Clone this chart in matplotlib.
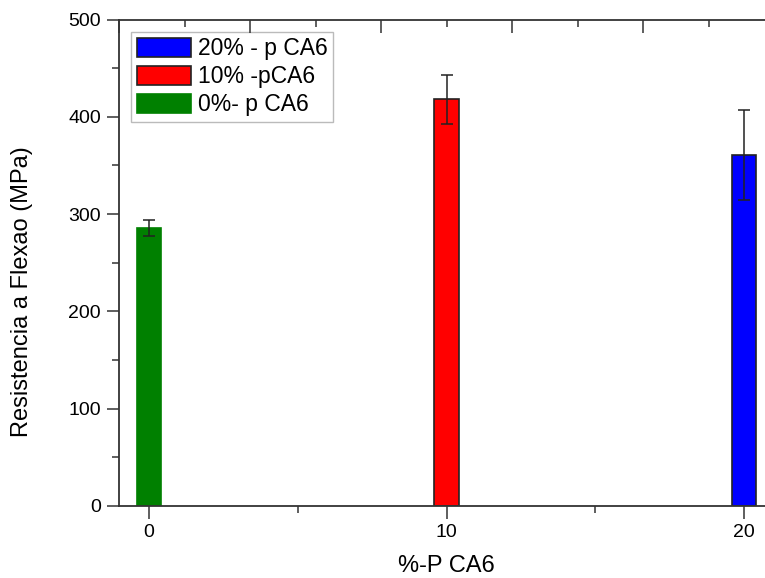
import numpy as np
import matplotlib.pyplot as plt
from matplotlib.ticker import MultipleLocator

plt.rcParams['font.family'] = ['Liberation Sans', 'DejaVu Sans']

# data
pct = [0, 10, 20]
strength = [286, 418, 361]
err = [8, 25, 46]
colors = ['#008000', '#ff0000', '#0000ff']
edges = ['#008000', '#222222', '#222222']
labels = ['0%- p CA6', '10% -pCA6', '20% - p CA6']

fig = plt.figure(figsize=(7.65, 5.78), dpi=100)
ax = fig.add_axes([119/765, 72/578, 655/765, 486.5/578])

bars = []
for x, h, e, c, ec, lab in zip(pct, strength, err, colors, edges, labels):
    b = ax.bar(x, h, width=0.82, color=c, edgecolor=ec, linewidth=1.2, label=lab, zorder=2)
    ax.errorbar(x, h, yerr=e, fmt='none', ecolor='#222222', elinewidth=1.1,
                capsize=4, capthick=1.1, zorder=3)
    bars.append(b)

ax.set_xlim(-1, 21)
ax.set_ylim(0, 500)
ax.set_xticks([0, 10, 20])
ax.xaxis.set_minor_locator(MultipleLocator(5))
ax.yaxis.set_major_locator(MultipleLocator(100))
ax.yaxis.set_minor_locator(MultipleLocator(50))
ax.tick_params(which='major', direction='out', length=9, width=1.1, labelsize=14,
               color='#333333', pad=4)
ax.tick_params(which='minor', direction='out', length=5, width=1.1, color='#333333')
for s in ax.spines.values():
    s.set_linewidth(1.3)
    s.set_color('#333333')

# extra axes ticks on top and right (Origin layer style)
top = ax.twiny()
top.set_xlim(0, 5)
top.xaxis.set_major_locator(MultipleLocator(1))
top.xaxis.set_minor_locator(MultipleLocator(0.5))
top.tick_params(which='major', direction='in', length=9, width=1.1, labeltop=False, color='#333333')
top.tick_params(which='minor', direction='in', length=5, width=1.1, color='#333333')
right = ax.twinx()
right.set_ylim(0, 4.5)
right.set_yticks([0.88, 1.88, 2.88, 3.88])
right.tick_params(direction='in', length=5, width=1.1, labelright=False, color='#333333')
for a in (top, right):
    for s in a.spines.values():
        s.set_visible(False)

ax.set_xlabel('%-P CA6', fontsize=17, labelpad=10)
ax.set_ylabel('Resistencia a Flexao (MPa)', fontsize=17)
ax.yaxis.set_label_coords(-0.131, 0.44)

leg = ax.legend(handles=bars[::-1], loc='upper left', bbox_to_anchor=(0.019, 0.975),
                fontsize=16.5, frameon=True, fancybox=False, edgecolor='#aaaaaa',
                handlelength=2.35, handleheight=0.95, handletextpad=0.3,
                labelspacing=0.22, borderpad=0.25, borderaxespad=0)
leg.get_frame().set_linewidth(1.0)

fig.savefig('out.png', dpi=100)
